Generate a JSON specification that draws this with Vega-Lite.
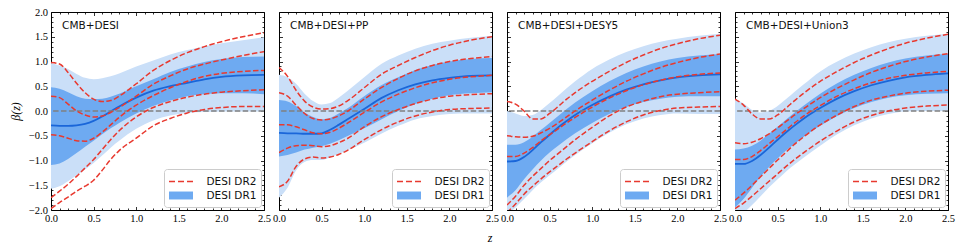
{
  "$schema": "https://vega.github.io/schema/vega-lite/v6.json",
  "background": "white",
  "padding": {"left": 8, "top": 6, "right": 5, "bottom": 2},
  "bounds": "flush",
  "spacing": 15,
  "title": {"text": "z", "orient": "bottom", "anchor": "middle", "font": "Liberation Serif", "fontSize": 12, "fontStyle": "italic", "fontWeight": "normal", "color": "black", "dx": 8, "offset": 8},
  "config": {
    "view": {"stroke": "black", "strokeWidth": 1},
    "axis": {"grid": false, "domain": false, "tickColor": "black", "tickWidth": 0.8, "labelColor": "black", "labelFont": "Liberation Serif", "labelFontSize": 10.5, "labelFlush": false, "labelOverlap": false, "labelBound": false, "titleColor": "black"},
    "legend": {"orient": "bottom-right", "offset": 3, "padding": 4, "rowPadding": 0, "fillColor": "rgba(255,255,255,0.85)", "strokeColor": "#cccccc", "strokeWidth": 1, "cornerRadius": 3, "labelFont": "DejaVu Sans", "labelFontSize": 10.5, "labelColor": "#111111", "symbolSize": 225, "symbolOffset": 4.5, "labelOffset": 17, "symbolStrokeWidth": 1.5, "symbolOpacity": 1}
  },
  "resolve": {"scale": {"fill": "independent", "stroke": "independent", "shape": "independent"}},
  "datasets": {
    "p1": [
      {"z": 0, "a": 0.97, "b": 0.48, "m": -0.29, "c": -1.09, "d": -1.57, "r1": 0.98, "r2": 0.3, "r3": -0.48, "r4": -1.75, "r5": -1.97},
      {"z": 0.1, "a": 0.92, "b": 0.45, "m": -0.3, "c": -1.06, "d": -1.52, "r1": 0.95, "r2": 0.27, "r3": -0.5, "r4": -1.62, "r5": -1.85},
      {"z": 0.2, "a": 0.85, "b": 0.38, "m": -0.3, "c": -0.97, "d": -1.42, "r1": 0.78, "r2": 0.14, "r3": -0.55, "r4": -1.48, "r5": -1.74},
      {"z": 0.3, "a": 0.75, "b": 0.3, "m": -0.29, "c": -0.85, "d": -1.3, "r1": 0.56, "r2": 0.0, "r3": -0.6, "r4": -1.32, "r5": -1.62},
      {"z": 0.4, "a": 0.67, "b": 0.25, "m": -0.26, "c": -0.72, "d": -1.18, "r1": 0.37, "r2": -0.08, "r3": -0.61, "r4": -1.15, "r5": -1.52},
      {"z": 0.5, "a": 0.64, "b": 0.24, "m": -0.2, "c": -0.6, "d": -1.05, "r1": 0.24, "r2": -0.12, "r3": -0.55, "r4": -0.98, "r5": -1.4},
      {"z": 0.6, "a": 0.66, "b": 0.25, "m": -0.11, "c": -0.47, "d": -0.9, "r1": 0.19, "r2": -0.1, "r3": -0.43, "r4": -0.78, "r5": -1.2},
      {"z": 0.7, "a": 0.7, "b": 0.29, "m": -0.01, "c": -0.35, "d": -0.74, "r1": 0.21, "r2": -0.03, "r3": -0.28, "r4": -0.58, "r5": -0.98},
      {"z": 0.8, "a": 0.76, "b": 0.35, "m": 0.09, "c": -0.24, "d": -0.6, "r1": 0.3, "r2": 0.07, "r3": -0.13, "r4": -0.4, "r5": -0.8},
      {"z": 1.0, "a": 0.9, "b": 0.5, "m": 0.27, "c": -0.05, "d": -0.36, "r1": 0.55, "r2": 0.3, "r3": 0.12, "r4": -0.12, "r5": -0.55},
      {"z": 1.2, "a": 1.02, "b": 0.64, "m": 0.41, "c": 0.1, "d": -0.19, "r1": 0.82, "r2": 0.54, "r3": 0.31, "r4": 0.07, "r5": -0.3},
      {"z": 1.4, "a": 1.14, "b": 0.79, "m": 0.5, "c": 0.21, "d": -0.09, "r1": 1.02, "r2": 0.71, "r3": 0.47, "r4": 0.19, "r5": -0.15},
      {"z": 1.6, "a": 1.23, "b": 0.9, "m": 0.57, "c": 0.3, "d": -0.04, "r1": 1.18, "r2": 0.85, "r3": 0.6, "r4": 0.28, "r5": -0.04},
      {"z": 1.8, "a": 1.31, "b": 0.99, "m": 0.64, "c": 0.34, "d": -0.02, "r1": 1.3, "r2": 0.95, "r3": 0.7, "r4": 0.34, "r5": 0.03},
      {"z": 2.0, "a": 1.37, "b": 1.05, "m": 0.69, "c": 0.36, "d": -0.01, "r1": 1.4, "r2": 1.03, "r3": 0.76, "r4": 0.38, "r5": 0.07},
      {"z": 2.25, "a": 1.43, "b": 1.09, "m": 0.72, "c": 0.36, "d": -0.01, "r1": 1.5, "r2": 1.12, "r3": 0.8, "r4": 0.41, "r5": 0.09},
      {"z": 2.5, "a": 1.49, "b": 1.1, "m": 0.73, "c": 0.34, "d": -0.01, "r1": 1.58, "r2": 1.2, "r3": 0.82, "r4": 0.43, "r5": 0.09}
    ],
    "p2": [
      {"z": 0, "a": 0.73, "b": 0.22, "m": -0.44, "c": -0.92, "d": -1.75, "r1": 0.88, "r2": 0.37, "r3": -0.28, "r4": -0.84, "r5": -1.53},
      {"z": 0.1, "a": 0.68, "b": 0.19, "m": -0.45, "c": -0.89, "d": -1.55, "r1": 0.7, "r2": 0.3, "r3": -0.28, "r4": -0.75, "r5": -1.42},
      {"z": 0.2, "a": 0.55, "b": 0.1, "m": -0.45, "c": -0.84, "d": -1.2, "r1": 0.42, "r2": 0.12, "r3": -0.32, "r4": -0.7, "r5": -1.12},
      {"z": 0.3, "a": 0.35, "b": -0.03, "m": -0.46, "c": -0.78, "d": -1.03, "r1": 0.2, "r2": -0.05, "r3": -0.38, "r4": -0.69, "r5": -0.97},
      {"z": 0.4, "a": 0.2, "b": -0.12, "m": -0.46, "c": -0.74, "d": -0.99, "r1": 0.08, "r2": -0.15, "r3": -0.44, "r4": -0.7, "r5": -0.93},
      {"z": 0.5, "a": 0.13, "b": -0.17, "m": -0.45, "c": -0.71, "d": -0.99, "r1": 0.04, "r2": -0.18, "r3": -0.46, "r4": -0.72, "r5": -0.95},
      {"z": 0.6, "a": 0.16, "b": -0.14, "m": -0.38, "c": -0.66, "d": -0.94, "r1": 0.05, "r2": -0.16, "r3": -0.43, "r4": -0.7, "r5": -0.93},
      {"z": 0.7, "a": 0.27, "b": -0.05, "m": -0.28, "c": -0.59, "d": -0.87, "r1": 0.1, "r2": -0.1, "r3": -0.35, "r4": -0.64, "r5": -0.88},
      {"z": 0.8, "a": 0.4, "b": 0.05, "m": -0.17, "c": -0.51, "d": -0.8, "r1": 0.2, "r2": -0.01, "r3": -0.25, "r4": -0.56, "r5": -0.8},
      {"z": 1.0, "a": 0.68, "b": 0.3, "m": 0.04, "c": -0.35, "d": -0.64, "r1": 0.47, "r2": 0.24, "r3": -0.03, "r4": -0.32, "r5": -0.58},
      {"z": 1.2, "a": 0.95, "b": 0.52, "m": 0.26, "c": -0.17, "d": -0.46, "r1": 0.74, "r2": 0.47, "r3": 0.18, "r4": -0.12, "r5": -0.38},
      {"z": 1.4, "a": 1.12, "b": 0.68, "m": 0.42, "c": 0.0, "d": -0.3, "r1": 0.92, "r2": 0.66, "r3": 0.34, "r4": 0.03, "r5": -0.22},
      {"z": 1.6, "a": 1.26, "b": 0.83, "m": 0.54, "c": 0.14, "d": -0.17, "r1": 1.08, "r2": 0.81, "r3": 0.47, "r4": 0.15, "r5": -0.1},
      {"z": 1.8, "a": 1.36, "b": 0.93, "m": 0.62, "c": 0.25, "d": -0.1, "r1": 1.22, "r2": 0.92, "r3": 0.57, "r4": 0.24, "r5": -0.02},
      {"z": 2.0, "a": 1.42, "b": 1.0, "m": 0.67, "c": 0.32, "d": -0.06, "r1": 1.33, "r2": 1.0, "r3": 0.64, "r4": 0.3, "r5": 0.03},
      {"z": 2.25, "a": 1.48, "b": 1.05, "m": 0.71, "c": 0.36, "d": -0.05, "r1": 1.43, "r2": 1.06, "r3": 0.69, "r4": 0.33, "r5": 0.05},
      {"z": 2.5, "a": 1.52, "b": 1.07, "m": 0.72, "c": 0.38, "d": -0.05, "r1": 1.5, "r2": 1.1, "r3": 0.72, "r4": 0.35, "r5": 0.06}
    ],
    "p3": [
      {"z": 0, "a": 0.0, "b": -0.68, "m": -1.02, "c": -1.75, "d": -2.1, "r1": 0.19, "r2": -0.5, "r3": -0.92, "r4": -1.9, "r5": -2.05},
      {"z": 0.1, "a": -0.05, "b": -0.68, "m": -1.01, "c": -1.6, "d": -1.95, "r1": 0.14, "r2": -0.52, "r3": -0.92, "r4": -1.72, "r5": -1.88},
      {"z": 0.2, "a": -0.1, "b": -0.63, "m": -0.93, "c": -1.38, "d": -1.78, "r1": 0.0, "r2": -0.53, "r3": -0.85, "r4": -1.5, "r5": -1.68},
      {"z": 0.3, "a": -0.08, "b": -0.52, "m": -0.79, "c": -1.18, "d": -1.6, "r1": -0.16, "r2": -0.51, "r3": -0.74, "r4": -1.32, "r5": -1.52},
      {"z": 0.4, "a": 0.02, "b": -0.38, "m": -0.63, "c": -1.0, "d": -1.44, "r1": -0.16, "r2": -0.44, "r3": -0.6, "r4": -1.16, "r5": -1.37},
      {"z": 0.5, "a": 0.16, "b": -0.24, "m": -0.48, "c": -0.84, "d": -1.3, "r1": -0.05, "r2": -0.35, "r3": -0.48, "r4": -1.0, "r5": -1.23},
      {"z": 0.6, "a": 0.31, "b": -0.1, "m": -0.33, "c": -0.7, "d": -1.16, "r1": 0.09, "r2": -0.24, "r3": -0.36, "r4": -0.86, "r5": -1.1},
      {"z": 0.7, "a": 0.46, "b": 0.04, "m": -0.2, "c": -0.57, "d": -1.02, "r1": 0.24, "r2": -0.12, "r3": -0.24, "r4": -0.72, "r5": -0.97},
      {"z": 0.8, "a": 0.6, "b": 0.17, "m": -0.08, "c": -0.45, "d": -0.89, "r1": 0.37, "r2": 0.0, "r3": -0.13, "r4": -0.58, "r5": -0.85},
      {"z": 1.0, "a": 0.85, "b": 0.4, "m": 0.12, "c": -0.24, "d": -0.65, "r1": 0.6, "r2": 0.22, "r3": 0.08, "r4": -0.33, "r5": -0.62},
      {"z": 1.2, "a": 1.04, "b": 0.6, "m": 0.29, "c": -0.06, "d": -0.44, "r1": 0.8, "r2": 0.42, "r3": 0.26, "r4": -0.1, "r5": -0.4},
      {"z": 1.4, "a": 1.19, "b": 0.77, "m": 0.43, "c": 0.08, "d": -0.27, "r1": 0.98, "r2": 0.6, "r3": 0.41, "r4": 0.08, "r5": -0.22},
      {"z": 1.6, "a": 1.31, "b": 0.9, "m": 0.54, "c": 0.18, "d": -0.15, "r1": 1.13, "r2": 0.75, "r3": 0.53, "r4": 0.2, "r5": -0.08},
      {"z": 1.8, "a": 1.4, "b": 1.0, "m": 0.62, "c": 0.25, "d": -0.08, "r1": 1.26, "r2": 0.88, "r3": 0.62, "r4": 0.29, "r5": 0.01},
      {"z": 2.0, "a": 1.46, "b": 1.07, "m": 0.68, "c": 0.29, "d": -0.05, "r1": 1.36, "r2": 0.98, "r3": 0.69, "r4": 0.34, "r5": 0.06},
      {"z": 2.25, "a": 1.52, "b": 1.12, "m": 0.72, "c": 0.3, "d": -0.06, "r1": 1.46, "r2": 1.08, "r3": 0.74, "r4": 0.37, "r5": 0.08},
      {"z": 2.5, "a": 1.56, "b": 1.15, "m": 0.74, "c": 0.3, "d": -0.06, "r1": 1.53, "r2": 1.15, "r3": 0.77, "r4": 0.39, "r5": 0.09}
    ],
    "p4": [
      {"z": 0, "a": 0.25, "b": -0.78, "m": -1.07, "c": -1.95, "d": -2.1, "r1": 0.24, "r2": -0.64, "r3": -0.98, "r4": -1.8, "r5": -1.97},
      {"z": 0.1, "a": 0.15, "b": -0.76, "m": -1.07, "c": -1.78, "d": -2.05, "r1": 0.12, "r2": -0.66, "r3": -0.98, "r4": -1.66, "r5": -1.86},
      {"z": 0.2, "a": 0.02, "b": -0.7, "m": -1.01, "c": -1.55, "d": -1.9, "r1": -0.06, "r2": -0.63, "r3": -0.92, "r4": -1.5, "r5": -1.72},
      {"z": 0.3, "a": -0.03, "b": -0.6, "m": -0.89, "c": -1.33, "d": -1.72, "r1": -0.16, "r2": -0.56, "r3": -0.8, "r4": -1.33, "r5": -1.57},
      {"z": 0.4, "a": 0.0, "b": -0.46, "m": -0.74, "c": -1.13, "d": -1.54, "r1": -0.16, "r2": -0.46, "r3": -0.66, "r4": -1.16, "r5": -1.42},
      {"z": 0.5, "a": 0.1, "b": -0.32, "m": -0.58, "c": -0.96, "d": -1.38, "r1": -0.08, "r2": -0.34, "r3": -0.52, "r4": -0.99, "r5": -1.27},
      {"z": 0.6, "a": 0.24, "b": -0.17, "m": -0.43, "c": -0.8, "d": -1.22, "r1": 0.06, "r2": -0.21, "r3": -0.38, "r4": -0.83, "r5": -1.12},
      {"z": 0.7, "a": 0.39, "b": -0.03, "m": -0.29, "c": -0.66, "d": -1.08, "r1": 0.21, "r2": -0.08, "r3": -0.24, "r4": -0.67, "r5": -0.98},
      {"z": 0.8, "a": 0.53, "b": 0.1, "m": -0.16, "c": -0.53, "d": -0.95, "r1": 0.35, "r2": 0.04, "r3": -0.11, "r4": -0.53, "r5": -0.85},
      {"z": 1.0, "a": 0.8, "b": 0.35, "m": 0.06, "c": -0.3, "d": -0.7, "r1": 0.6, "r2": 0.27, "r3": 0.11, "r4": -0.28, "r5": -0.61},
      {"z": 1.2, "a": 1.0, "b": 0.56, "m": 0.25, "c": -0.1, "d": -0.47, "r1": 0.8, "r2": 0.46, "r3": 0.3, "r4": -0.08, "r5": -0.4},
      {"z": 1.4, "a": 1.16, "b": 0.73, "m": 0.4, "c": 0.06, "d": -0.29, "r1": 0.98, "r2": 0.63, "r3": 0.45, "r4": 0.09, "r5": -0.22},
      {"z": 1.6, "a": 1.29, "b": 0.87, "m": 0.52, "c": 0.18, "d": -0.15, "r1": 1.13, "r2": 0.78, "r3": 0.57, "r4": 0.22, "r5": -0.09},
      {"z": 1.8, "a": 1.39, "b": 0.98, "m": 0.61, "c": 0.27, "d": -0.06, "r1": 1.26, "r2": 0.9, "r3": 0.66, "r4": 0.3, "r5": 0.0},
      {"z": 2.0, "a": 1.46, "b": 1.06, "m": 0.68, "c": 0.32, "d": -0.01, "r1": 1.37, "r2": 1.0, "r3": 0.72, "r4": 0.36, "r5": 0.06},
      {"z": 2.25, "a": 1.52, "b": 1.12, "m": 0.73, "c": 0.35, "d": 0.0, "r1": 1.47, "r2": 1.09, "r3": 0.77, "r4": 0.4, "r5": 0.1},
      {"z": 2.5, "a": 1.56, "b": 1.15, "m": 0.76, "c": 0.36, "d": 0.0, "r1": 1.55, "r2": 1.16, "r3": 0.8, "r4": 0.42, "r5": 0.12}
    ]
  },
  "hconcat": [
    {
      "width": 213, "height": 198,
      "data": {"name": "p1"},
      "resolve": {"axis": {"x": "independent", "y": "independent"}},
      "layer": [
        {"mark": {"type": "area", "color": "#cadff8", "interpolate": "monotone", "clip": true},
         "encoding": {
           "x": {"field": "z", "type": "quantitative", "scale": {"domain": [0, 2.5], "nice": false, "zero": false}, "axis": {"orient": "bottom", "values": [0, 0.5, 1, 1.5, 2, 2.5], "format": ".1f", "tickSize": -3.5, "labelPadding": 7, "title": null}},
           "y": {"field": "a", "type": "quantitative", "scale": {"domain": [-2, 2], "nice": false, "zero": false}, "axis": {"orient": "left", "values": [-2, -1.5, -1, -0.5, 0, 0.5, 1, 1.5, 2], "format": ".1f", "tickSize": -3.5, "labelPadding": 7, "title": "β(z)", "titleFont": "Liberation Serif", "titleFontSize": 12, "titleFontStyle": "italic", "titleFontWeight": "normal", "titlePadding": 6}},
           "y2": {"field": "d"}}},
        {"mark": {"type": "area", "color": "#6eaaf1", "interpolate": "monotone", "clip": true},
         "encoding": {
           "x": {"field": "z", "type": "quantitative", "axis": {"orient": "bottom", "values": [0.1,0.2,0.3,0.4,0.6,0.7,0.8,0.9,1.1,1.2,1.3,1.4,1.6,1.7,1.8,1.9,2.1,2.2,2.3,2.4], "tickSize": -2, "labels": false, "title": null}},
           "y": {"field": "b", "type": "quantitative", "axis": {"orient": "left", "values": [-1.9,-1.8,-1.7,-1.6,-1.4,-1.3,-1.2,-1.1,-0.9,-0.8,-0.7,-0.6,-0.4,-0.3,-0.2,-0.1,0.1,0.2,0.3,0.4,0.6,0.7,0.8,0.9,1.1,1.2,1.3,1.4,1.6,1.7,1.8,1.9], "tickSize": -2, "labels": false, "title": null}},
           "y2": {"field": "c"}}},
        {"mark": {"type": "line", "color": "#1a66d9", "strokeWidth": 1.8, "interpolate": "monotone", "clip": true},
         "encoding": {
           "x": {"field": "z", "type": "quantitative", "axis": {"orient": "top", "values": [0, 0.5, 1, 1.5, 2, 2.5], "tickSize": -3.5, "labels": false, "title": null}},
           "y": {"field": "m", "type": "quantitative", "axis": {"orient": "right", "values": [-2, -1.5, -1, -0.5, 0, 0.5, 1, 1.5, 2], "tickSize": -3.5, "labels": false, "title": null}}}},
        {"data": {"values": [{"y": 0}]},
         "mark": {"type": "rule", "color": "#808080", "strokeWidth": 1.4, "strokeDash": [5.5, 2.4]},
         "encoding": {"y": {"field": "y", "type": "quantitative", "axis": null}}},
        {"transform": [{"fold": ["r1", "r2", "r3", "r4", "r5"], "as": ["k", "v"]}],
         "mark": {"type": "line", "color": "#e8392f", "strokeWidth": 1.5, "strokeDash": [5.5, 2.4], "interpolate": "monotone", "clip": true},
         "encoding": {
           "x": {"field": "z", "type": "quantitative", "axis": {"orient": "top", "values": [0.1,0.2,0.3,0.4,0.6,0.7,0.8,0.9,1.1,1.2,1.3,1.4,1.6,1.7,1.8,1.9,2.1,2.2,2.3,2.4], "tickSize": -2, "labels": false, "title": null}},
           "y": {"field": "v", "type": "quantitative", "axis": {"orient": "right", "values": [-1.9,-1.8,-1.7,-1.6,-1.4,-1.3,-1.2,-1.1,-0.9,-0.8,-0.7,-0.6,-0.4,-0.3,-0.2,-0.1,0.1,0.2,0.3,0.4,0.6,0.7,0.8,0.9,1.1,1.2,1.3,1.4,1.6,1.7,1.8,1.9], "tickSize": -2, "labels": false, "title": null}},
           "detail": {"field": "k"}}},
        {"data": {"values": [{"t": "CMB+DESI"}]},
         "mark": {"type": "text", "align": "left", "baseline": "middle", "font": "DejaVu Sans", "fontSize": 10.5, "color": "#111111"},
         "encoding": {"x": {"datum": 0.13, "type": "quantitative", "axis": null}, "y": {"datum": 1.72, "type": "quantitative", "axis": null}, "text": {"field": "t"}}},
        {"data": {"values": [{"s": "DESI DR2"}, {"s": "DESI DR1"}]},
         "mark": {"type": "point", "opacity": 0},
         "encoding": {
           "fill": {"field": "s", "type": "nominal", "scale": {"domain": ["DESI DR2", "DESI DR1"], "range": ["transparent", "#6eaaf1"]}, "legend": {"title": null}},
           "stroke": {"field": "s", "type": "nominal", "scale": {"domain": ["DESI DR2", "DESI DR1"], "range": ["#e8392f", "transparent"]}, "legend": {"title": null}},
           "shape": {"field": "s", "type": "nominal", "scale": {"domain": ["DESI DR2", "DESI DR1"], "range": ["M-1.6,0H-0.8M-0.4,0H0.4M0.8,0H1.6", "M-1.6,-0.53H1.6V0.53H-1.6Z"]}, "legend": {"title": null}}}}
      ]
    },
    {
      "width": 213, "height": 198,
      "data": {"name": "p2"},
      "resolve": {"axis": {"x": "independent", "y": "independent"}},
      "layer": [
        {"mark": {"type": "area", "color": "#cadff8", "interpolate": "monotone", "clip": true},
         "encoding": {
           "x": {"field": "z", "type": "quantitative", "scale": {"domain": [0, 2.5], "nice": false, "zero": false}, "axis": {"orient": "bottom", "values": [0, 0.5, 1, 1.5, 2, 2.5], "format": ".1f", "tickSize": -3.5, "labelPadding": 7, "title": null}},
           "y": {"field": "a", "type": "quantitative", "scale": {"domain": [-2, 2], "nice": false, "zero": false}, "axis": {"orient": "left", "values": [-2, -1.5, -1, -0.5, 0, 0.5, 1, 1.5, 2], "tickSize": -3.5, "labels": false, "title": null}},
           "y2": {"field": "d"}}},
        {"mark": {"type": "area", "color": "#6eaaf1", "interpolate": "monotone", "clip": true},
         "encoding": {
           "x": {"field": "z", "type": "quantitative", "axis": {"orient": "bottom", "values": [0.1,0.2,0.3,0.4,0.6,0.7,0.8,0.9,1.1,1.2,1.3,1.4,1.6,1.7,1.8,1.9,2.1,2.2,2.3,2.4], "tickSize": -2, "labels": false, "title": null}},
           "y": {"field": "b", "type": "quantitative", "axis": {"orient": "left", "values": [-1.9,-1.8,-1.7,-1.6,-1.4,-1.3,-1.2,-1.1,-0.9,-0.8,-0.7,-0.6,-0.4,-0.3,-0.2,-0.1,0.1,0.2,0.3,0.4,0.6,0.7,0.8,0.9,1.1,1.2,1.3,1.4,1.6,1.7,1.8,1.9], "tickSize": -2, "labels": false, "title": null}},
           "y2": {"field": "c"}}},
        {"mark": {"type": "line", "color": "#1a66d9", "strokeWidth": 1.8, "interpolate": "monotone", "clip": true},
         "encoding": {
           "x": {"field": "z", "type": "quantitative", "axis": {"orient": "top", "values": [0, 0.5, 1, 1.5, 2, 2.5], "tickSize": -3.5, "labels": false, "title": null}},
           "y": {"field": "m", "type": "quantitative", "axis": {"orient": "right", "values": [-2, -1.5, -1, -0.5, 0, 0.5, 1, 1.5, 2], "tickSize": -3.5, "labels": false, "title": null}}}},
        {"data": {"values": [{"y": 0}]},
         "mark": {"type": "rule", "color": "#808080", "strokeWidth": 1.4, "strokeDash": [5.5, 2.4]},
         "encoding": {"y": {"field": "y", "type": "quantitative", "axis": null}}},
        {"transform": [{"fold": ["r1", "r2", "r3", "r4", "r5"], "as": ["k", "v"]}],
         "mark": {"type": "line", "color": "#e8392f", "strokeWidth": 1.5, "strokeDash": [5.5, 2.4], "interpolate": "monotone", "clip": true},
         "encoding": {
           "x": {"field": "z", "type": "quantitative", "axis": {"orient": "top", "values": [0.1,0.2,0.3,0.4,0.6,0.7,0.8,0.9,1.1,1.2,1.3,1.4,1.6,1.7,1.8,1.9,2.1,2.2,2.3,2.4], "tickSize": -2, "labels": false, "title": null}},
           "y": {"field": "v", "type": "quantitative", "axis": {"orient": "right", "values": [-1.9,-1.8,-1.7,-1.6,-1.4,-1.3,-1.2,-1.1,-0.9,-0.8,-0.7,-0.6,-0.4,-0.3,-0.2,-0.1,0.1,0.2,0.3,0.4,0.6,0.7,0.8,0.9,1.1,1.2,1.3,1.4,1.6,1.7,1.8,1.9], "tickSize": -2, "labels": false, "title": null}},
           "detail": {"field": "k"}}},
        {"data": {"values": [{"t": "CMB+DESI+PP"}]},
         "mark": {"type": "text", "align": "left", "baseline": "middle", "font": "DejaVu Sans", "fontSize": 10.5, "color": "#111111"},
         "encoding": {"x": {"datum": 0.13, "type": "quantitative", "axis": null}, "y": {"datum": 1.72, "type": "quantitative", "axis": null}, "text": {"field": "t"}}},
        {"data": {"values": [{"s": "DESI DR2"}, {"s": "DESI DR1"}]},
         "mark": {"type": "point", "opacity": 0},
         "encoding": {
           "fill": {"field": "s", "type": "nominal", "scale": {"domain": ["DESI DR2", "DESI DR1"], "range": ["transparent", "#6eaaf1"]}, "legend": {"title": null}},
           "stroke": {"field": "s", "type": "nominal", "scale": {"domain": ["DESI DR2", "DESI DR1"], "range": ["#e8392f", "transparent"]}, "legend": {"title": null}},
           "shape": {"field": "s", "type": "nominal", "scale": {"domain": ["DESI DR2", "DESI DR1"], "range": ["M-1.6,0H-0.8M-0.4,0H0.4M0.8,0H1.6", "M-1.6,-0.53H1.6V0.53H-1.6Z"]}, "legend": {"title": null}}}}
      ]
    },
    {
      "width": 213, "height": 198,
      "data": {"name": "p3"},
      "resolve": {"axis": {"x": "independent", "y": "independent"}},
      "layer": [
        {"mark": {"type": "area", "color": "#cadff8", "interpolate": "monotone", "clip": true},
         "encoding": {
           "x": {"field": "z", "type": "quantitative", "scale": {"domain": [0, 2.5], "nice": false, "zero": false}, "axis": {"orient": "bottom", "values": [0, 0.5, 1, 1.5, 2, 2.5], "format": ".1f", "tickSize": -3.5, "labelPadding": 7, "title": null}},
           "y": {"field": "a", "type": "quantitative", "scale": {"domain": [-2, 2], "nice": false, "zero": false}, "axis": {"orient": "left", "values": [-2, -1.5, -1, -0.5, 0, 0.5, 1, 1.5, 2], "tickSize": -3.5, "labels": false, "title": null}},
           "y2": {"field": "d"}}},
        {"mark": {"type": "area", "color": "#6eaaf1", "interpolate": "monotone", "clip": true},
         "encoding": {
           "x": {"field": "z", "type": "quantitative", "axis": {"orient": "bottom", "values": [0.1,0.2,0.3,0.4,0.6,0.7,0.8,0.9,1.1,1.2,1.3,1.4,1.6,1.7,1.8,1.9,2.1,2.2,2.3,2.4], "tickSize": -2, "labels": false, "title": null}},
           "y": {"field": "b", "type": "quantitative", "axis": {"orient": "left", "values": [-1.9,-1.8,-1.7,-1.6,-1.4,-1.3,-1.2,-1.1,-0.9,-0.8,-0.7,-0.6,-0.4,-0.3,-0.2,-0.1,0.1,0.2,0.3,0.4,0.6,0.7,0.8,0.9,1.1,1.2,1.3,1.4,1.6,1.7,1.8,1.9], "tickSize": -2, "labels": false, "title": null}},
           "y2": {"field": "c"}}},
        {"mark": {"type": "line", "color": "#1a66d9", "strokeWidth": 1.8, "interpolate": "monotone", "clip": true},
         "encoding": {
           "x": {"field": "z", "type": "quantitative", "axis": {"orient": "top", "values": [0, 0.5, 1, 1.5, 2, 2.5], "tickSize": -3.5, "labels": false, "title": null}},
           "y": {"field": "m", "type": "quantitative", "axis": {"orient": "right", "values": [-2, -1.5, -1, -0.5, 0, 0.5, 1, 1.5, 2], "tickSize": -3.5, "labels": false, "title": null}}}},
        {"data": {"values": [{"y": 0}]},
         "mark": {"type": "rule", "color": "#808080", "strokeWidth": 1.4, "strokeDash": [5.5, 2.4]},
         "encoding": {"y": {"field": "y", "type": "quantitative", "axis": null}}},
        {"transform": [{"fold": ["r1", "r2", "r3", "r4", "r5"], "as": ["k", "v"]}],
         "mark": {"type": "line", "color": "#e8392f", "strokeWidth": 1.5, "strokeDash": [5.5, 2.4], "interpolate": "monotone", "clip": true},
         "encoding": {
           "x": {"field": "z", "type": "quantitative", "axis": {"orient": "top", "values": [0.1,0.2,0.3,0.4,0.6,0.7,0.8,0.9,1.1,1.2,1.3,1.4,1.6,1.7,1.8,1.9,2.1,2.2,2.3,2.4], "tickSize": -2, "labels": false, "title": null}},
           "y": {"field": "v", "type": "quantitative", "axis": {"orient": "right", "values": [-1.9,-1.8,-1.7,-1.6,-1.4,-1.3,-1.2,-1.1,-0.9,-0.8,-0.7,-0.6,-0.4,-0.3,-0.2,-0.1,0.1,0.2,0.3,0.4,0.6,0.7,0.8,0.9,1.1,1.2,1.3,1.4,1.6,1.7,1.8,1.9], "tickSize": -2, "labels": false, "title": null}},
           "detail": {"field": "k"}}},
        {"data": {"values": [{"t": "CMB+DESI+DESY5"}]},
         "mark": {"type": "text", "align": "left", "baseline": "middle", "font": "DejaVu Sans", "fontSize": 10.5, "color": "#111111"},
         "encoding": {"x": {"datum": 0.13, "type": "quantitative", "axis": null}, "y": {"datum": 1.72, "type": "quantitative", "axis": null}, "text": {"field": "t"}}},
        {"data": {"values": [{"s": "DESI DR2"}, {"s": "DESI DR1"}]},
         "mark": {"type": "point", "opacity": 0},
         "encoding": {
           "fill": {"field": "s", "type": "nominal", "scale": {"domain": ["DESI DR2", "DESI DR1"], "range": ["transparent", "#6eaaf1"]}, "legend": {"title": null}},
           "stroke": {"field": "s", "type": "nominal", "scale": {"domain": ["DESI DR2", "DESI DR1"], "range": ["#e8392f", "transparent"]}, "legend": {"title": null}},
           "shape": {"field": "s", "type": "nominal", "scale": {"domain": ["DESI DR2", "DESI DR1"], "range": ["M-1.6,0H-0.8M-0.4,0H0.4M0.8,0H1.6", "M-1.6,-0.53H1.6V0.53H-1.6Z"]}, "legend": {"title": null}}}}
      ]
    },
    {
      "width": 213, "height": 198,
      "data": {"name": "p4"},
      "resolve": {"axis": {"x": "independent", "y": "independent"}},
      "layer": [
        {"mark": {"type": "area", "color": "#cadff8", "interpolate": "monotone", "clip": true},
         "encoding": {
           "x": {"field": "z", "type": "quantitative", "scale": {"domain": [0, 2.5], "nice": false, "zero": false}, "axis": {"orient": "bottom", "values": [0, 0.5, 1, 1.5, 2, 2.5], "format": ".1f", "tickSize": -3.5, "labelPadding": 7, "title": null}},
           "y": {"field": "a", "type": "quantitative", "scale": {"domain": [-2, 2], "nice": false, "zero": false}, "axis": {"orient": "left", "values": [-2, -1.5, -1, -0.5, 0, 0.5, 1, 1.5, 2], "tickSize": -3.5, "labels": false, "title": null}},
           "y2": {"field": "d"}}},
        {"mark": {"type": "area", "color": "#6eaaf1", "interpolate": "monotone", "clip": true},
         "encoding": {
           "x": {"field": "z", "type": "quantitative", "axis": {"orient": "bottom", "values": [0.1,0.2,0.3,0.4,0.6,0.7,0.8,0.9,1.1,1.2,1.3,1.4,1.6,1.7,1.8,1.9,2.1,2.2,2.3,2.4], "tickSize": -2, "labels": false, "title": null}},
           "y": {"field": "b", "type": "quantitative", "axis": {"orient": "left", "values": [-1.9,-1.8,-1.7,-1.6,-1.4,-1.3,-1.2,-1.1,-0.9,-0.8,-0.7,-0.6,-0.4,-0.3,-0.2,-0.1,0.1,0.2,0.3,0.4,0.6,0.7,0.8,0.9,1.1,1.2,1.3,1.4,1.6,1.7,1.8,1.9], "tickSize": -2, "labels": false, "title": null}},
           "y2": {"field": "c"}}},
        {"mark": {"type": "line", "color": "#1a66d9", "strokeWidth": 1.8, "interpolate": "monotone", "clip": true},
         "encoding": {
           "x": {"field": "z", "type": "quantitative", "axis": {"orient": "top", "values": [0, 0.5, 1, 1.5, 2, 2.5], "tickSize": -3.5, "labels": false, "title": null}},
           "y": {"field": "m", "type": "quantitative", "axis": {"orient": "right", "values": [-2, -1.5, -1, -0.5, 0, 0.5, 1, 1.5, 2], "tickSize": -3.5, "labels": false, "title": null}}}},
        {"data": {"values": [{"y": 0}]},
         "mark": {"type": "rule", "color": "#808080", "strokeWidth": 1.4, "strokeDash": [5.5, 2.4]},
         "encoding": {"y": {"field": "y", "type": "quantitative", "axis": null}}},
        {"transform": [{"fold": ["r1", "r2", "r3", "r4", "r5"], "as": ["k", "v"]}],
         "mark": {"type": "line", "color": "#e8392f", "strokeWidth": 1.5, "strokeDash": [5.5, 2.4], "interpolate": "monotone", "clip": true},
         "encoding": {
           "x": {"field": "z", "type": "quantitative", "axis": {"orient": "top", "values": [0.1,0.2,0.3,0.4,0.6,0.7,0.8,0.9,1.1,1.2,1.3,1.4,1.6,1.7,1.8,1.9,2.1,2.2,2.3,2.4], "tickSize": -2, "labels": false, "title": null}},
           "y": {"field": "v", "type": "quantitative", "axis": {"orient": "right", "values": [-1.9,-1.8,-1.7,-1.6,-1.4,-1.3,-1.2,-1.1,-0.9,-0.8,-0.7,-0.6,-0.4,-0.3,-0.2,-0.1,0.1,0.2,0.3,0.4,0.6,0.7,0.8,0.9,1.1,1.2,1.3,1.4,1.6,1.7,1.8,1.9], "tickSize": -2, "labels": false, "title": null}},
           "detail": {"field": "k"}}},
        {"data": {"values": [{"t": "CMB+DESI+Union3"}]},
         "mark": {"type": "text", "align": "left", "baseline": "middle", "font": "DejaVu Sans", "fontSize": 10.5, "color": "#111111"},
         "encoding": {"x": {"datum": 0.13, "type": "quantitative", "axis": null}, "y": {"datum": 1.72, "type": "quantitative", "axis": null}, "text": {"field": "t"}}},
        {"data": {"values": [{"s": "DESI DR2"}, {"s": "DESI DR1"}]},
         "mark": {"type": "point", "opacity": 0},
         "encoding": {
           "fill": {"field": "s", "type": "nominal", "scale": {"domain": ["DESI DR2", "DESI DR1"], "range": ["transparent", "#6eaaf1"]}, "legend": {"title": null}},
           "stroke": {"field": "s", "type": "nominal", "scale": {"domain": ["DESI DR2", "DESI DR1"], "range": ["#e8392f", "transparent"]}, "legend": {"title": null}},
           "shape": {"field": "s", "type": "nominal", "scale": {"domain": ["DESI DR2", "DESI DR1"], "range": ["M-1.6,0H-0.8M-0.4,0H0.4M0.8,0H1.6", "M-1.6,-0.53H1.6V0.53H-1.6Z"]}, "legend": {"title": null}}}}
      ]
    }
  ]
}
